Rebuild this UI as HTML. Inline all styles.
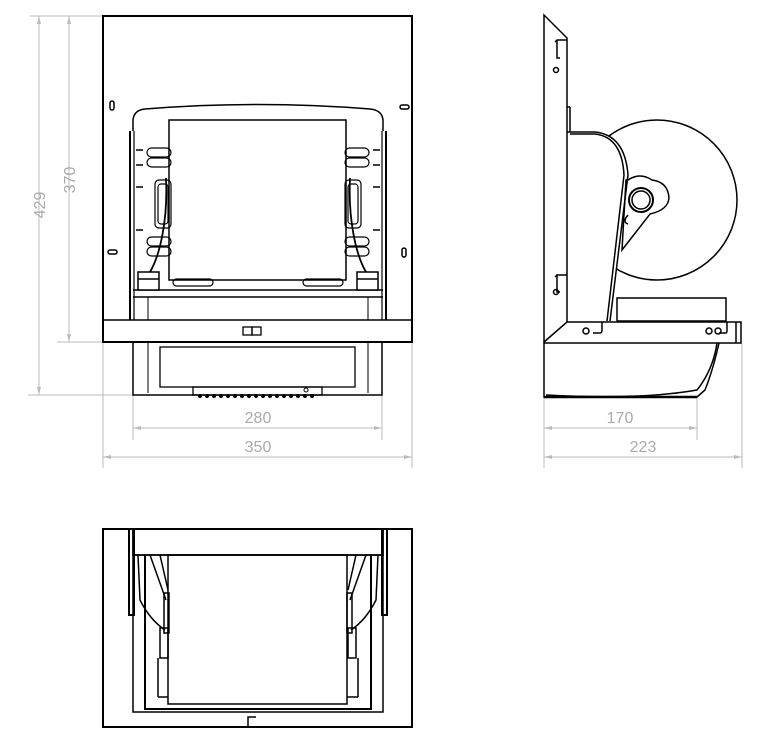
<!DOCTYPE html>
<html><head><style>html,body{margin:0;padding:0;background:#fff;width:765px;height:746px;overflow:hidden}</style></head>
<body>
<svg width="765" height="746" viewBox="0 0 765 746" xmlns="http://www.w3.org/2000/svg" font-family="Liberation Sans, sans-serif">
<defs>
<g id="half">
  <line x1="130" y1="131" x2="130" y2="320" stroke="#000" stroke-width="2"/>
  <line x1="134" y1="131" x2="134" y2="320" stroke="#000" stroke-width="1.2"/>
  <g stroke="#000" stroke-width="1.5">
    <line x1="136" y1="150" x2="143" y2="150"/><line x1="136" y1="165" x2="143" y2="165"/>
    <line x1="136" y1="187" x2="143" y2="187"/><line x1="136" y1="230" x2="143" y2="230"/>
  </g>
  <g fill="none" stroke="#000" stroke-width="1.2">
    <rect x="147" y="148" width="24" height="9" rx="4.5"/><rect x="147" y="158" width="24" height="9" rx="4.5"/>
    <rect x="155" y="180" width="16" height="48" rx="4"/><rect x="158" y="184" width="10" height="40" rx="3"/>
    <rect x="147" y="237" width="24" height="9" rx="4.5"/><rect x="147" y="247" width="24" height="9" rx="4.5"/>
    <rect x="173" y="279" width="40" height="7" rx="3.5"/>
    <path d="M166 178 C168 220 160 255 150 272" stroke-width="1.8"/>
  </g>
  <rect x="138" y="272" width="21" height="18" fill="#fff" stroke="#000" stroke-width="1.5"/>
  <line x1="138" y1="279" x2="159" y2="279" stroke="#000" stroke-width="1.5"/>
</g>
</defs>
<g stroke="#bbb" stroke-width="1" fill="none">
  <line x1="30" y1="16" x2="103" y2="16"/><line x1="57" y1="342" x2="103" y2="342"/><line x1="28" y1="395" x2="133" y2="395"/>
  <line x1="39" y1="16" x2="39" y2="395"/><line x1="69" y1="16" x2="69" y2="342"/>
  <line x1="133" y1="395" x2="133" y2="440"/><line x1="382" y1="395" x2="382" y2="440"/>
  <line x1="103" y1="342" x2="103" y2="468"/><line x1="412" y1="342" x2="412" y2="468"/>
  <line x1="133" y1="428" x2="382" y2="428"/><line x1="103" y1="457" x2="412" y2="457"/>
  <line x1="544" y1="397" x2="544" y2="468"/><line x1="697" y1="397" x2="697" y2="440"/><line x1="742" y1="343" x2="742" y2="468"/>
  <line x1="544" y1="428" x2="697" y2="428"/><line x1="544" y1="457" x2="742" y2="457"/>
</g>
<g fill="#bbb">
  <path d="M39 16 l-2 8 h4z"/><path d="M39 395 l-2 -8 h4z"/><path d="M69 16 l-2 8 h4z"/><path d="M69 342 l-2 -8 h4z"/>
  <path d="M133 428 l8 -2 v4z"/><path d="M382 428 l-8 -2 v4z"/><path d="M103 457 l8 -2 v4z"/><path d="M412 457 l-8 -2 v4z"/>
  <path d="M544 428 l8 -2 v4z"/><path d="M697 428 l-8 -2 v4z"/><path d="M544 457 l8 -2 v4z"/><path d="M742 457 l-8 -2 v4z"/>
</g>
<g fill="#aaa" font-size="16" text-anchor="middle">
  <text x="258" y="423">280</text><text x="258" y="452">350</text>
  <text x="620" y="423">170</text><text x="643" y="452">223</text>
  <text transform="translate(45,205) rotate(-90)">429</text>
  <text transform="translate(75,180) rotate(-90)">370</text>
</g>
<!-- front view -->
<g fill="none" stroke="#000">
  <rect x="103" y="16" width="309" height="326" stroke-width="2"/>
  <line x1="103" y1="320" x2="412" y2="320" stroke-width="1.5"/>
  <path d="M133 131 L133 120 Q134 110 145 109 Q258 100 370 109 Q382 110 383 120 L383 131" stroke-width="1.5"/>
  <rect x="169" y="120" width="177" height="160" stroke-width="1.5"/>
  <line x1="133" y1="290" x2="383" y2="290" stroke-width="1.5"/>
  <line x1="133" y1="297" x2="383" y2="297" stroke-width="1.5"/>
  <line x1="148" y1="297" x2="148" y2="320"/><line x1="368" y1="297" x2="368" y2="320"/>
  <rect x="243" y="327" width="9" height="8" stroke-width="1.3"/><rect x="252" y="327" width="9" height="8" stroke-width="1.3"/>
  <rect x="133" y="342" width="249" height="53" stroke-width="1.5"/>
  <line x1="148" y1="342" x2="148" y2="393"/><line x1="368" y1="342" x2="368" y2="393"/>
  <rect x="160" y="347" width="195" height="40" stroke-width="1.3"/>
  <rect x="193" y="387" width="129" height="8" stroke-width="1.3"/>
  <circle cx="306" cy="390" r="2"/>
  <rect x="110" y="101" width="4" height="9" rx="2" stroke-width="1.5"/>
  <rect x="108" y="250" width="9" height="4" rx="2" stroke-width="1.5"/>
  <rect x="400" y="105" width="9" height="4" rx="2" stroke-width="1.5"/>
  <rect x="402" y="248" width="4" height="9" rx="2" stroke-width="1.5"/>
</g>
<g fill="#000">
  <circle cx="200" cy="396" r="2"/><circle cx="207" cy="396" r="2"/><circle cx="214" cy="396" r="2"/><circle cx="221" cy="396" r="2"/><circle cx="228" cy="396" r="2"/><circle cx="235" cy="396" r="2"/><circle cx="242" cy="396" r="2"/><circle cx="249" cy="396" r="2"/><circle cx="256" cy="396" r="2"/><circle cx="263" cy="396" r="2"/><circle cx="270" cy="396" r="2"/><circle cx="277" cy="396" r="2"/><circle cx="284" cy="396" r="2"/><circle cx="291" cy="396" r="2"/><circle cx="298" cy="396" r="2"/><circle cx="305" cy="396" r="2"/><circle cx="312" cy="396" r="2"/>
</g>
<use href="#half"/>
<use href="#half" transform="translate(516,0) scale(-1,1)"/>
<!-- side view -->
<g fill="none" stroke="#000" stroke-width="1.5">
  <circle cx="657" cy="200" r="80" fill="#fff"/>
  <path d="M568 132 L595 132 Q625 135 628 175 L610 321 L568 321 Z" fill="#fff" stroke="none"/>
  <path d="M628 180 Q640 172 652 180 Q668 182 669 198 Q668 210 650 214 L622 250 L626 180 Z" fill="#fff"/>
  <path d="M544 342 L544 15 L567 38 L567 322"/>
  <line x1="567" y1="107" x2="570" y2="107"/><line x1="570" y1="107" x2="570" y2="132"/>
  <path d="M567 132 L595 132 Q625 135 628 175 L610 321"/>
  <path d="M570 134 L595 134 Q622 137 624 175 L607 321"/>
  <path d="M628 215 Q622 222 628 224"/>
  <circle cx="641" cy="200" r="12" stroke-width="2"/>
  <circle cx="641" cy="200" r="9"/>
  <rect x="617" y="298" width="109" height="23" fill="#fff"/>
  <path d="M544 342 L567 322 L741 322 L741 343 L544 343 Z" fill="#fff"/>
  <line x1="736" y1="322" x2="736" y2="343"/>
  <path d="M544 343 L544 397 L697 397 L705 390 Q713 370 719 343"/>
  <path d="M546 395 Q640 400 697 390 Q713 370 717 343"/>
  <line x1="544" y1="397" x2="697" y2="397" stroke-width="2.5"/>
  <path d="M555 42 L557 40 L567 40 M557 40 L557 58 L560 58"/>
  <circle cx="556" cy="70" r="2.5"/>
  <path d="M555 277 L557 275 L567 275 M557 275 L557 292 L560 292"/>
  <circle cx="556" cy="292" r="2.5"/>
  <circle cx="586" cy="331" r="3"/><path d="M593 333 L600 333 Q602 333 602 330 L602 322"/>
  <circle cx="709" cy="331" r="3"/><circle cx="718" cy="331" r="3"/><path d="M719 333 L726 333 Q727 333 727 330 L727 322"/>
</g>
<!-- bottom view -->
<g fill="none" stroke="#000" stroke-width="1.5">
  <rect x="103" y="529" width="309" height="198" stroke-width="2"/>
  <rect x="133" y="529" width="250" height="26" stroke-width="1.8"/>
  <rect x="168" y="555" width="179" height="149"/>
  <path d="M133 555 L133 712 L383 712 L383 555" />
  <path d="M145 555 L145 709 L371 709 L371 555" stroke-width="2"/>
  <rect x="129" y="529" width="5" height="86" stroke-width="2"/>
  <rect x="382" y="529" width="5" height="86" stroke-width="2"/>
  <path d="M138 555 L140 600 Q150 620 165 630 M150 555 L166 600 M160 555 L168 590"/>
  <path d="M378 555 L376 600 Q366 620 351 630 M366 555 L350 600 M356 555 L348 590"/>
  <rect x="160" y="628" width="8" height="30"/><rect x="348" y="628" width="8" height="30"/>
  <rect x="164" y="593" width="5" height="40"/><rect x="347" y="593" width="5" height="40"/>
  <line x1="158" y1="658" x2="158" y2="697"/><line x1="158" y1="697" x2="168" y2="697"/>
  <line x1="358" y1="658" x2="358" y2="697"/><line x1="358" y1="697" x2="347" y2="697"/>
  <path d="M248 727 L248 717 L256 717"/>
</g>
</svg>
</body></html>
